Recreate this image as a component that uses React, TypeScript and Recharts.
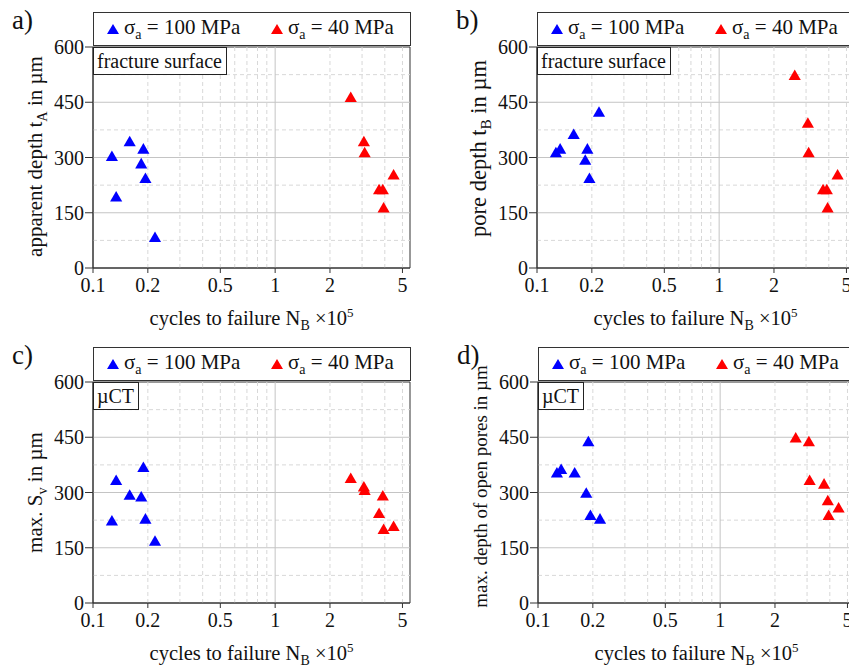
import React from "react";
import {
  ScatterChart,
  Scatter,
  XAxis,
  YAxis,
  ZAxis,
  ReferenceLine,
  ReferenceArea,
  Legend,
} from "recharts";

const FONT = '"Liberation Serif", "Times New Roman", serif';
const BLUE = "#0000ff";
const RED = "#ff0000";

// axes
const xTicks = [0.1, 0.2, 0.5, 1, 2, 5];
const yTicks = [0, 150, 300, 450, 600];
const yRightTicks = [0, 75, 150, 225, 300, 375, 450, 525, 600];
const majorY = [150, 300, 450];
const minorY = [75, 225, 375, 525];
const majorX = [1];
const minorX = [0.2, 0.3, 0.4, 0.5, 0.6, 0.7, 0.8, 0.9, 2, 3, 4, 5];

// cycles to failure N_B (x10^5)
const cycles100 = [0.127, 0.134, 0.159, 0.184, 0.189, 0.194, 0.219];
const cycles40 = [2.6, 3.07, 3.1, 3.72, 3.9, 3.94, 4.47];

// a) apparent depth t_A (fracture surface)
const depthA100 = [300, 190, 340, 280, 320, 240, 80];
const depthA40 = [460, 340, 310, 210, 210, 160, 250];
// b) pore depth t_B (fracture surface)
const depthB100 = [310, 320, 360, 290, 320, 240, 420];
const depthB40 = [520, 390, 310, 210, 210, 160, 250];
// c) max. S_v (µCT)
const sv100 = [220, 330, 290, 285, 365, 225, 165];
const sv40 = [335, 312, 303, 240, 288, 197, 205];
// d) max. depth of open pores (µCT)
const open100 = [350, 360, 350, 295, 435, 235, 225];
const open40 = [445, 435, 330, 320, 275, 235, 255];

const legendLabels = ["100 MPa", "40 MPa"];

const toPoints = (xs: number[], ys: number[]) => xs.map((x, i) => ({ x, y: ys[i] }));

function LegendBox() {
  const colors = [BLUE, RED];
  const offsets = [19, 183];
  return (
    <div
      style={{
        position: "relative",
        width: 318,
        height: 34,
        boxSizing: "border-box",
        border: "1px solid #333",
        background: "#fff",
        fontFamily: FONT,
        fontSize: 21,
        color: "#111",
      }}
    >
      {legendLabels.map((lab, i) => (
        <div
          key={lab}
          style={{ position: "absolute", left: offsets[i] - 7, top: 2, whiteSpace: "nowrap", display: "flex", alignItems: "center" }}
        >
          <svg width={14} height={12} style={{ marginRight: 4 }}>
            <polygon points="7,1 13,11 1,11" fill={colors[i]} />
          </svg>
          <span>
            σ<sub style={{ fontSize: 14 }}>a</sub> = {lab}
          </span>
        </div>
      ))}
    </div>
  );
}

// eslint-disable-next-line @typescript-eslint/no-explicit-any
function XLabel({ viewBox }: any) {
  const cx = viewBox.x + viewBox.width / 2;
  return (
    <text x={cx} y={viewBox.y + 57} textAnchor="middle" fontSize={20.5} fontFamily={FONT} fill="#111">
      cycles to failure N
      <tspan dy={5} fontSize={14}>B</tspan>
      <tspan dy={-5}> ×10</tspan>
      <tspan dy={-8} fontSize={13}>5</tspan>
    </text>
  );
}

function makeYLabel(before: string, sub: string | null, after: string, size: number, shift: number) {
  // eslint-disable-next-line @typescript-eslint/no-explicit-any
  return function YLabel({ viewBox }: any) {
    const cx = viewBox.x + viewBox.width - 51;
    const cy = viewBox.y + viewBox.height / 2 + shift;
    return (
      <text
        x={cx}
        y={cy}
        transform={`rotate(-90, ${cx}, ${cy})`}
        textAnchor="middle"
        fontSize={size}
        fontFamily={FONT}
        fill="#111"
      >
        {before}
        {sub && (
          <>
            <tspan dy={5} fontSize={size * 0.68}>{sub}</tspan>
            <tspan dy={-5}>{after}</tspan>
          </>
        )}
        {!sub && after}
      </text>
    );
  };
}

interface PanelProps {
  letter: string;
  note: string;
  yLabel: [string, string | null, string, number, number];
  blue: number[];
  red: number[];
  left: number;
  top: number;
}

function Panel({ letter, note, yLabel, blue, red, left, top }: PanelProps) {
  const YLabel = makeYLabel(...yLabel);
  const tickStyle = { fontSize: 20, fontFamily: FONT, fill: "#111" };
  return (
    <div style={{ position: "absolute", left, top, width: 425, height: 335 }}>
      <ScatterChart width={425} height={335} margin={{ top: 13, right: 15, bottom: 7, left: 38 }}>
        <Legend verticalAlign="top" wrapperStyle={{ top: 12, left: 93 }} content={() => <LegendBox />} />
        <XAxis
          dataKey="x"
          type="number"
          scale="log"
          domain={[0.1, 5.5]}
          ticks={xTicks}
          allowDataOverflow
          height={60}
          tick={tickStyle}
          tickSize={5}
          tickMargin={5}
          stroke="#333"
          label={<XLabel />}
        />
        <YAxis
          dataKey="y"
          type="number"
          domain={[0, 600]}
          ticks={yTicks}
          width={55}
          tick={tickStyle}
          tickSize={8}
          tickMargin={1}
          stroke="#333"
          label={<YLabel />}
        />
        <YAxis
          yAxisId="right"
          orientation="right"
          type="number"
          domain={[0, 600]}
          ticks={yRightTicks}
          width={0}
          tick={false}
          tickSize={4}
          stroke="#333"
        />
        <ZAxis range={[70, 70]} />
        {minorY.map((v) => (
          <ReferenceLine key={`my${v}`} y={v} stroke="#d8d8d8" strokeDasharray="4 3" />
        ))}
        {minorX.map((v) => (
          <ReferenceLine key={`mx${v}`} x={v} stroke="#d8d8d8" strokeDasharray="4 3" />
        ))}
        {majorY.map((v) => (
          <ReferenceLine key={`My${v}`} y={v} stroke="#c4c4c4" />
        ))}
        {majorX.map((v) => (
          <ReferenceLine key={`Mx${v}`} x={v} stroke="#c4c4c4" />
        ))}
        <ReferenceArea x1={0.1} x2={5.5} y1={0} y2={600} fill="none" stroke="#333" strokeWidth={1} />
        <Scatter data={toPoints(cycles100, blue)} fill={BLUE} shape="triangle" isAnimationActive={false} />
        <Scatter data={toPoints(cycles40, red)} fill={RED} shape="triangle" isAnimationActive={false} />
      </ScatterChart>
      <div
        style={{
          position: "absolute",
          left: 93,
          top: 47,
          border: "1px solid #222",
          background: "#fff",
          padding: "0 4px 0 3px",
          fontFamily: FONT,
          fontSize: 20,
          lineHeight: "26px",
          color: "#111",
        }}
      >
        {note}
      </div>
      <div
        style={{
          position: "absolute",
          left: 12,
          top: 5,
          fontFamily: FONT,
          fontSize: 27,
          lineHeight: "30px",
          color: "#111",
        }}
      >
        {letter}
      </div>
    </div>
  );
}

export default function App() {
  return (
    <div
      style={{
        position: "absolute",
        left: 0,
        top: 0,
        width: 849,
        height: 667,
        overflow: "hidden",
        background: "#fff",
      }}
    >
      <Panel letter="a)" note="fracture surface" yLabel={["apparent depth t", "A", " in µm", 21, -1]} blue={depthA100} red={depthA40} left={0} top={0} />
      <Panel letter="b)" note="fracture surface" yLabel={["pore depth t", "B", " in µm", 22.5, -9]} blue={depthB100} red={depthB40} left={444} top={0} />
      <Panel letter="c)" note="µCT" yLabel={["max. S", "v", " in µm", 21, 0]} blue={sv100} red={sv40} left={0} top={335} />
      <Panel letter="d)" note="µCT" yLabel={["max. depth of open pores in µm", null, "", 19, -6]} blue={open100} red={open40} left={445} top={335} />
    </div>
  );
}
